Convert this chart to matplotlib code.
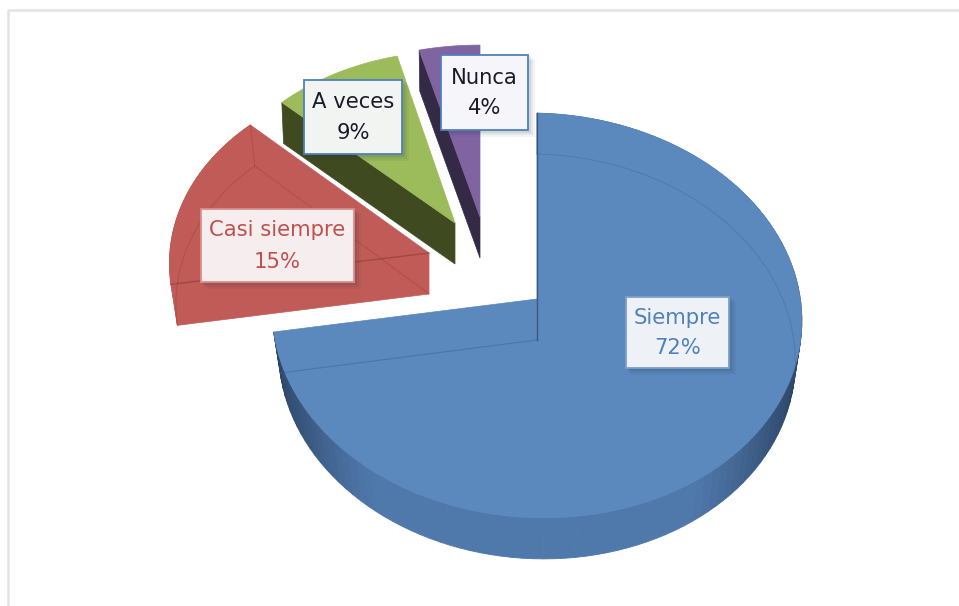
import numpy as np
import matplotlib
matplotlib.use('Agg')
import matplotlib.pyplot as plt
from matplotlib.patches import Polygon, Rectangle

categories = ['Siempre', 'Casi siempre', 'A veces', 'Nunca']
shares = [72, 15, 9, 4]

top_col = ['#5b88bd', '#c15b57', '#9cbb5b', '#8064a2']
cut_col = ['#3d5f8c', '#c15b57', '#404a20', '#352a45']
txt_col = ['#4f81bd', '#c0504d', '#1a1a2a', '#1a1a2a']
box_edge = ['#7d9fca', '#d98f8c', '#4f81bd', '#4f81bd']
box_fill = ['#eef1f6', '#f6eeee', '#f1f4f1', '#f6f6fa']

# layout in pixels
apex = [(537, 299), (429, 253), (455, 223), (480, 217)]
xscale = [1.0, 0.98, 0.95, 1.0]
yscale = [1.0, 0.955, 0.925, 0.925]
skew = [0.02, 0.02, 0.0, 0.0]
shrink = [0.975, 0.975, 0.99, 0.99]
boxes = [(626, 297, 103, 71), (201, 209, 153, 73), (304, 80, 98, 74), (441, 55, 87, 75)]
depth = 41
a, b, k = 264, 201, 0.0815


def arc(i, t0, t1, n=120):
    # clockwise angles from top, squashed disc with some perspective
    t = np.radians(np.linspace(t0, t1, n))
    u, v = np.sin(t), np.cos(t)
    w = 1 + k * v
    dx = xscale[i] * a * u / w
    x = apex[i][0] + dx
    y = apex[i][1] - yscale[i] * b * v / w + skew[i] * dx
    return np.column_stack([x, y])


def lower(i, pts):
    # bottom face, a bit narrower than the top one
    out = pts.copy()
    out[:, 0] = apex[i][0] + (pts[:, 0] - apex[i][0]) * shrink[i]
    out[:, 1] = pts[:, 1] + depth
    return out


fig = plt.figure(figsize=(9.59, 6.06), dpi=100)
ax = fig.add_axes([0, 0, 1, 1])
ax.set_xlim(0, 959)
ax.set_ylim(606, 0)
ax.axis('off')

ax.plot([959, 8, 8], [10, 10, 606], color='#e4e4e4', lw=1.8)

ends = np.cumsum(shares) / sum(shares) * 360
starts = ends - np.array(shares) / sum(shares) * 360

for i in range(4):
    edge = arc(i, starts[i], ends[i])
    low = lower(i, edge)
    ap = np.array(apex[i], dtype=float)
    down = np.array([0, depth])
    if i == 0:
        # outer wall, shaded by pieces
        for j in range(len(edge) - 1):
            if edge[j][1] < apex[0][1] - 10 and edge[j][0] < apex[0][0]:
                continue
            f = abs(edge[j][0] - apex[0][0]) / a
            base = np.array([0.31, 0.47, 0.67])
            dark = np.array([0.17, 0.27, 0.40])
            c = base + (dark - base) * np.clip((f - 0.6) / 0.4, 0, 1) ** 1.3
            q = [edge[j], edge[j + 1], low[j + 1], low[j]]
            ax.add_patch(Polygon(q, closed=True, fc=c, ec=c, lw=0.6, zorder=2))
    else:
        if i == 1:
            ax.add_patch(Polygon(np.vstack([edge, low[::-1]]), closed=True, fc=cut_col[i],
                                 ec=cut_col[i], lw=0.5, zorder=2 + i))
        # cut face towards the viewer
        first, first_low = (edge[0], low[0])
        q = [first, ap, ap + down, first_low]
        ax.add_patch(Polygon(q, closed=True, fc=cut_col[i], ec=cut_col[i], lw=0.5, zorder=2 + i))
    ax.add_patch(Polygon(np.vstack([ap, edge]), closed=True, fc=top_col[i], ec=top_col[i],
                         lw=0.5, zorder=2.5 + i))

# hidden edges showing through
blue_low = lower(0, arc(0, 0, 100))
ax.plot(blue_low[:, 0], blue_low[:, 1], color='#3d5f8c', lw=0.7, alpha=0.35, zorder=7)
left = lower(0, arc(0, ends[0], ends[0]))
ax.plot([apex[0][0], left[0][0]], [apex[0][1] + depth, left[0][1]], color='#3d5f8c', lw=0.8, alpha=0.45, zorder=7)
ax.plot([apex[0][0]] * 2, [arc(0, 0, 0)[0][1], apex[0][1] + depth], color='#2c4668', lw=1.0, alpha=0.7, zorder=7)

red = arc(1, starts[1], ends[1])
red_low = lower(1, red)
ghost = '#8e3d3a'
ax.plot(red_low[:, 0], red_low[:, 1], color=ghost, lw=0.7, alpha=0.4, zorder=7)
ax.plot([red[0][0], apex[1][0]], [red[0][1], apex[1][1]], color=ghost, lw=0.9, alpha=0.7, zorder=7)
ax.plot([red_low[-1][0], apex[1][0]], [red_low[-1][1], apex[1][1] + depth], color=ghost, lw=0.7, alpha=0.4, zorder=7)
ax.plot([red[-1][0], red_low[-1][0]], [red[-1][1], red_low[-1][1]], color=ghost, lw=0.7, alpha=0.4, zorder=7)

for i in range(4):
    x, y, w, h = boxes[i]
    for off, al in [(7, 0.05), (5, 0.07), (3, 0.09)]:
        ax.add_patch(Rectangle((x + off - 2, y + off - 2), w + 2, h + 2, fc='#203040', ec='none', alpha=al, zorder=8))
    ax.add_patch(Rectangle((x, y), w, h, fc=box_fill[i], ec=box_edge[i], lw=1.3, zorder=9))
    ax.text(x + w / 2, y + h / 2 - 15, categories[i], color=txt_col[i], fontsize=15.2, ha='center', va='center', zorder=10)
    ax.text(x + w / 2, y + h / 2 + 16, '%d%%' % shares[i], color=txt_col[i], fontsize=15.2, ha='center', va='center', zorder=10)

plt.savefig('out.png', dpi=100)
